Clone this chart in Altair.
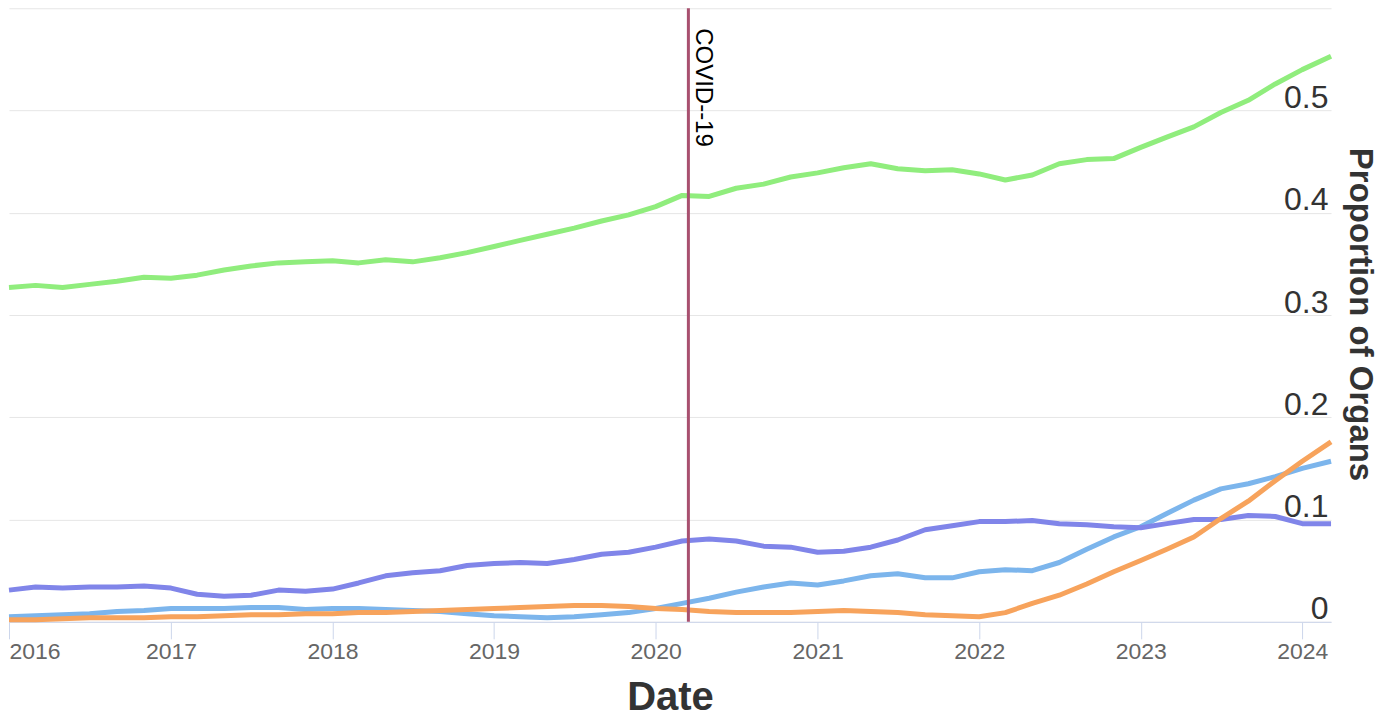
import altair as alt
import pandas as pd

dates = [
    "2016-01-01", "2016-03-01", "2016-05-01", "2016-07-01", "2016-09-01", "2016-11-01",
    "2017-01-01", "2017-03-01", "2017-05-01", "2017-07-01", "2017-09-01", "2017-11-01",
    "2018-01-01", "2018-03-01", "2018-05-01", "2018-07-01", "2018-09-01", "2018-11-01",
    "2019-01-01", "2019-03-01", "2019-05-01", "2019-07-01", "2019-09-01", "2019-11-01",
    "2020-01-01", "2020-03-01", "2020-05-01", "2020-07-01", "2020-09-01", "2020-11-01",
    "2021-01-01", "2021-03-01", "2021-05-01", "2021-07-01", "2021-09-01", "2021-11-01",
    "2022-01-01", "2022-03-01", "2022-05-01", "2022-07-01", "2022-09-01", "2022-11-01",
    "2023-01-01", "2023-03-01", "2023-05-01", "2023-07-01", "2023-09-01", "2023-11-01",
    "2024-01-01", "2024-03-06",
]

series_green = [0.327, 0.329, 0.327, 0.330, 0.333, 0.337, 0.336, 0.339, 0.344, 0.348,
                0.351, 0.352, 0.353, 0.351, 0.354, 0.352, 0.356, 0.361, 0.367, 0.373,
                0.379, 0.385, 0.392, 0.398, 0.406, 0.417, 0.416, 0.424, 0.428, 0.435,
                0.439, 0.444, 0.448, 0.443, 0.441, 0.442, 0.438, 0.432, 0.437, 0.448,
                0.452, 0.453, 0.464, 0.474, 0.484, 0.498, 0.510, 0.526, 0.540, 0.553]

series_purple = [0.031, 0.034, 0.033, 0.034, 0.034, 0.035, 0.033, 0.027, 0.025, 0.026,
                 0.031, 0.030, 0.032, 0.038, 0.045, 0.048, 0.050, 0.055, 0.057, 0.058,
                 0.057, 0.061, 0.066, 0.068, 0.073, 0.079, 0.081, 0.079, 0.074, 0.073,
                 0.068, 0.069, 0.073, 0.080, 0.090, 0.094, 0.098, 0.098, 0.099, 0.096,
                 0.095, 0.093, 0.092, 0.096, 0.100, 0.100, 0.104, 0.103, 0.096, 0.096]

series_blue = [0.005, 0.006, 0.007, 0.008, 0.010, 0.011, 0.013, 0.013, 0.013, 0.014,
               0.014, 0.012, 0.013, 0.013, 0.012, 0.011, 0.010, 0.008, 0.006, 0.005,
               0.004, 0.005, 0.007, 0.009, 0.013, 0.018, 0.023, 0.029, 0.034, 0.038,
               0.036, 0.040, 0.045, 0.047, 0.043, 0.043, 0.049, 0.051, 0.050, 0.058,
               0.071, 0.083, 0.093, 0.106, 0.119, 0.130, 0.135, 0.142, 0.150, 0.157]

series_orange = [0.002, 0.002, 0.003, 0.004, 0.004, 0.004, 0.005, 0.005, 0.006, 0.007,
                 0.007, 0.008, 0.008, 0.009, 0.009, 0.010, 0.011, 0.012, 0.013, 0.014,
                 0.015, 0.016, 0.016, 0.015, 0.013, 0.012, 0.010, 0.009, 0.009, 0.009,
                 0.010, 0.011, 0.010, 0.009, 0.007, 0.006, 0.005, 0.009, 0.018, 0.026,
                 0.037, 0.049, 0.060, 0.071, 0.083, 0.101, 0.118, 0.138, 0.157, 0.176]

series_names = ["Series 1", "Series 2", "Series 3", "Series 4"]
series_colors = ["#7cb5ec", "#8085e9", "#90ed7d", "#f7a35c"]
series_values = [series_blue, series_purple, series_green, series_orange]

covid_date = ["2020-03-15"]
covid_label = ["COVID--19"]

rows = []
for name, vals in zip(series_names, series_values):
    for d, v in zip(dates, vals):
        rows.append({"date": d, "value": v, "series": name})
df = pd.DataFrame(rows)

covid_df = pd.DataFrame({"date": covid_date, "label": covid_label})

FONT = "Liberation Sans"

x_enc = alt.X(
    "date:T",
    scale=alt.Scale(domain=["2016-01-01", "2024-03-06"]),
    axis=alt.Axis(
        title="Date",
        format="%Y",
        tickCount="year",
        grid=False,
        domainColor="#ccd6eb",
        domainWidth=1,
        tickColor="#ccd6eb",
        tickSize=17,
        labelFlush=True,
        labelFont=FONT,
        labelFontSize=23,
        labelColor="#666666",
        labelPadding=2,
        titleFont=FONT,
        titleFontSize=40,
        titleFontWeight="bold",
        titleColor="#333333",
        titleBaseline="alphabetic",
        titleY=88,
    ),
)

y_enc = alt.Y(
    "value:Q",
    scale=alt.Scale(domain=[0, 0.6], nice=False),
    axis=alt.Axis(
        title="Proportion of Organs",
        orient="right",
        values=[0, 0.1, 0.2, 0.3, 0.4, 0.5, 0.6],
        labelExpr="datum.value >= 0.59 ? '' : format(datum.value, '~g')",
        grid=True,
        gridColor="#e6e6e6",
        gridWidth=1,
        domain=False,
        ticks=False,
        tickSize=0,
        labelPadding=-3,
        labelAlign="right",
        labelBaseline="alphabetic",
        labelOffset=-3,
        labelOverlap=False,
        labelFont=FONT,
        labelFontSize=32,
        labelColor="#333333",
        titleFont=FONT,
        titleFontSize=33,
        titleFontWeight="bold",
        titleColor="#333333",
        titleAngle=90,
        titleAlign="center",
        titleBaseline="alphabetic",
        titleX=18,
        titleY=306,
    ),
)

lines = alt.Chart(df).mark_line(strokeWidth=5, strokeJoin="round").encode(
    x=x_enc,
    y=y_enc,
    color=alt.Color(
        "series:N",
        scale=alt.Scale(domain=series_names, range=series_colors),
        legend=None,
    ),
    order=alt.Order("date:T"),
)

rule = alt.Chart(covid_df).mark_rule(color="#a8506f", strokeWidth=3).encode(
    x="date:T"
)

text = alt.Chart(covid_df).mark_text(
    angle=90,
    align="left",
    baseline="alphabetic",
    dy=-8,
    font=FONT,
    fontSize=24,
    color="#000000",
).encode(x="date:T", y=alt.value(20), text="label:N")

chart = alt.layer(lines, rule, text).properties(
    width=1323,
    height=614,
    padding={"left": 1, "top": 0, "right": 60, "bottom": 104},
    autosize=alt.AutoSizeParams(type="none"),
    background="white",
).configure_view(stroke=None)

chart.save("out.html", embed_options={"renderer": "svg", "actions": False})
